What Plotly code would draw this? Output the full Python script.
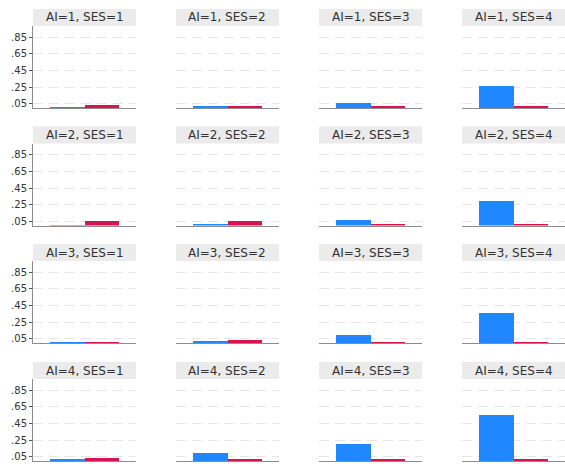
import plotly.graph_objects as go

# Share of each outcome by AI level (rows) and SES level (columns)
ai_levels = [1, 2, 3, 4]
ses_levels = [1, 2, 3, 4]
groups = ["A", "B"]

# blue bars, one row per AI level, one value per SES level
blue_values = [
    [0.005, 0.020, 0.065, 0.270],
    [0.005, 0.030, 0.070, 0.300],
    [0.010, 0.030, 0.100, 0.360],
    [0.015, 0.095, 0.200, 0.550],
]
# red bars
red_values = [
    [0.040, 0.015, 0.020, 0.020],
    [0.060, 0.060, 0.025, 0.025],
    [0.010, 0.040, 0.010, 0.010],
    [0.035, 0.015, 0.020, 0.020],
]
y_ticks = [0.05, 0.25, 0.45, 0.65, 0.85]
y_tick_text = [".05", ".25", ".45", ".65", ".85"]

W, H = 565, 468
col_left = [33, 176, 319, 462]
col_w = 103
row_top = [26, 143.5, 261, 379]
row_h = 82
strip_h = 17

BLUE = "#1f87ff"
RED = "#d81450"

fig = go.Figure()
n = 0
for r, ai in enumerate(ai_levels):
    for c, ses in enumerate(ses_levels):
        n += 1
        xa = "x" if n == 1 else f"x{n}"
        ya = "y" if n == 1 else f"y{n}"
        fig.add_trace(go.Bar(
            x=[0, 1], y=[blue_values[r][c], red_values[r][c]],
            marker=dict(color=[BLUE, RED], line=dict(width=0)),
            width=1, xaxis=xa, yaxis=ya, showlegend=False,
        ))
        x0 = col_left[c] / W
        x1 = (col_left[c] + col_w) / W
        y1 = 1 - row_top[r] / H
        y0 = 1 - (row_top[r] + row_h) / H
        first = c == 0
        fig.layout[f"xaxis{'' if n == 1 else n}"] = dict(
            domain=[x0, x1], anchor=ya, range=[-1, 2],
            showticklabels=False, ticks="", showgrid=False, zeroline=False,
            showline=True, linecolor="#8c8c8c", linewidth=1, fixedrange=True,
        )
        fig.layout[f"yaxis{'' if n == 1 else n}"] = dict(
            domain=[y0, y1], anchor=xa, range=[0, 0.985],
            tickvals=y_ticks, ticktext=y_tick_text, showticklabels=first,
            ticks="outside" if first else "", ticklen=3, tickcolor="#555",
            tickfont=dict(size=10, color="#333", family="DejaVu Sans"),
            showgrid=True, gridcolor="#e6e6e6", griddash="10px,6px", gridwidth=1,
            zeroline=False, showline=first, linecolor="#8c8c8c", linewidth=1,
            fixedrange=True,
        )
        # strip label above each panel
        fig.add_shape(
            type="rect", xref="paper", yref="paper",
            x0=x0, x1=x1, y0=y1, y1=1 - (row_top[r] - strip_h) / H,
            fillcolor="#ebebeb", line=dict(width=0), layer="below",
        )
        fig.add_annotation(
            x=(x0 + x1) / 2, y=1 - (row_top[r] - strip_h / 2) / H,
            xref="paper", yref="paper", text=f"AI={ai}, SES={ses}",
            showarrow=False, xanchor="center", yanchor="middle",
            font=dict(size=12, color="#333", family="DejaVu Sans"),
        )

fig.update_layout(
    width=W, height=H, margin=dict(l=0, r=0, t=0, b=0),
    paper_bgcolor="white", plot_bgcolor="white", bargap=0,
)
fig.write_html("out.html")
